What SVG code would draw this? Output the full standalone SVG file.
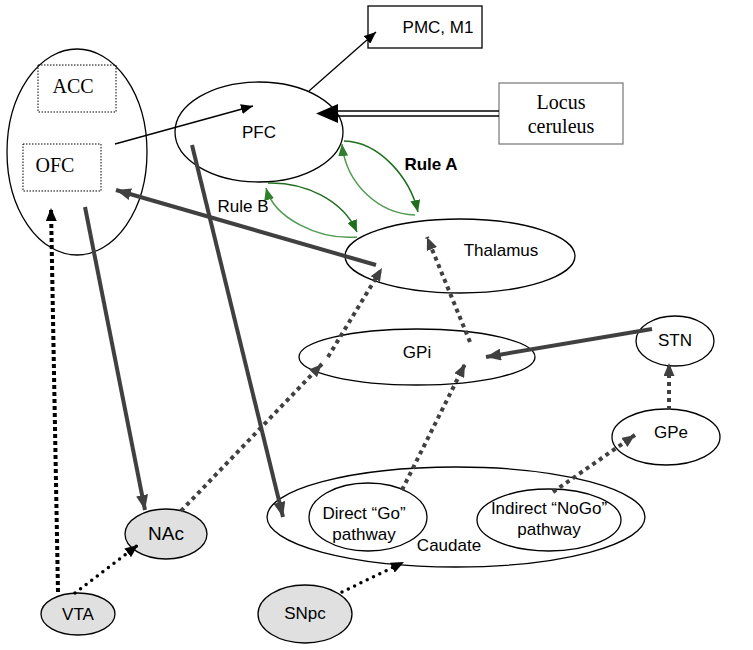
<svg xmlns="http://www.w3.org/2000/svg" width="753" height="650" viewBox="0 0 753 650">
<style>
.node{fill:#fff;stroke:#000;stroke-width:1.3}
.gray{fill:#e0e0e0;stroke:#000;stroke-width:1.3}
.box{fill:none;stroke:#000;stroke-width:1;stroke-dasharray:1.5 1.5}
.t{font-family:"Liberation Sans",Arial,sans-serif;font-size:17px;fill:#000;text-anchor:middle}
.s{font-family:"Liberation Serif","Times New Roman",serif;font-size:20px;fill:#000;text-anchor:middle}
.thin{stroke:#000;stroke-width:1.3;fill:none}
.thick{stroke:#404040;stroke-width:4;fill:none}
.dotg{stroke:#404040;stroke-width:4;stroke-dasharray:4 4;fill:none}
.dotk{stroke:#000;stroke-width:4;stroke-dasharray:4 3;fill:none}
.dotr{stroke:#000;stroke-width:3.5;stroke-dasharray:0 7;stroke-linecap:round;fill:none}
.gd{stroke:#1e6e1e;stroke-width:1.5;fill:none}
.gl{stroke:#4f9a4f;stroke-width:1.5;fill:none}
</style>
<defs>
<marker id="ak" markerUnits="userSpaceOnUse" markerWidth="12" markerHeight="10" refX="12" refY="5" orient="auto"><path d="M0,0 L12,5 L0,10 z" fill="#000"/></marker>
<marker id="ag" markerUnits="userSpaceOnUse" markerWidth="15" markerHeight="12" refX="15" refY="6" orient="auto"><path d="M0,0 L15,6 L0,12 z" fill="#404040"/></marker>
<marker id="ad" markerUnits="userSpaceOnUse" markerWidth="13" markerHeight="11" refX="13" refY="5.5" orient="auto"><path d="M0,0 L13,5.5 L0,11 z" fill="#404040"/></marker>
<marker id="ab" markerUnits="userSpaceOnUse" markerWidth="13" markerHeight="11" refX="13" refY="5.5" orient="auto"><path d="M0,0 L13,5.5 L0,11 z" fill="#000"/></marker>
<marker id="agd" markerUnits="userSpaceOnUse" markerWidth="12" markerHeight="10" refX="12" refY="5" orient="auto"><path d="M0,0 L12,5 L0,10 z" fill="#1e6e1e"/></marker>
<marker id="agl" markerUnits="userSpaceOnUse" markerWidth="12" markerHeight="10" refX="12" refY="5" orient="auto"><path d="M0,0 L12,5 L0,10 z" fill="#2f7f2f"/></marker>
</defs>

<g id="frontal">
<ellipse class="node" cx="77" cy="152" rx="70" ry="103"/>
<rect class="box" x="38" y="65" width="78" height="47"/>
<text class="s" x="73" y="93">ACC</text>
<rect class="box" x="23" y="144" width="78" height="47"/>
<text class="s" x="55" y="172">OFC</text>
</g>
<g id="pfc">
<ellipse class="node" cx="259" cy="132" rx="84" ry="50"/>
<text class="t" x="259" y="138">PFC</text>
</g>
<g id="pmc">
<rect x="368" y="6" width="114" height="42" fill="#fff" stroke="#000" stroke-width="1.3"/>
<text class="t" x="438" y="33">PMC, M1</text>
</g>
<g id="lc">
<rect x="499" y="83" width="124" height="61" fill="#fff" stroke="#808080" stroke-width="1.3"/>
<text class="s" x="561" y="109">Locus</text>
<text class="s" x="561" y="133">ceruleus</text>
</g>
<g id="thalamus">
<ellipse class="node" cx="460" cy="256" rx="115" ry="37"/>
<text class="t" x="501" y="256">Thalamus</text>
</g>
<g id="gpi">
<ellipse class="node" cx="417" cy="357" rx="118" ry="28"/>
<text class="t" x="417" y="358">GPi</text>
</g>
<g id="stn">
<ellipse class="node" cx="675" cy="341" rx="39" ry="25"/>
<text class="t" x="675" y="346">STN</text>
</g>
<g id="gpe">
<ellipse class="node" cx="666" cy="437" rx="54" ry="28"/>
<text class="t" x="671" y="438">GPe</text>
</g>
<g id="caudate">
<ellipse class="node" cx="456" cy="517" rx="189" ry="50"/>
<text class="t" x="449" y="551">Caudate</text>
</g>
<g id="direct">
<ellipse class="node" cx="368" cy="517" rx="59" ry="34"/>
<text class="t" x="364" y="519">Direct “Go”</text>
<text class="t" x="364" y="540">pathway</text>
</g>
<g id="indirect">
<ellipse class="node" cx="549" cy="520" rx="72" ry="31"/>
<text class="t" x="549" y="514">Indirect “NoGo”</text>
<text class="t" x="549" y="535">pathway</text>
</g>
<g id="nac">
<ellipse class="gray" cx="166" cy="534" rx="41" ry="25"/>
<text class="t" x="166" y="540" style="font-size:19px">NAc</text>
</g>
<g id="vta">
<ellipse class="gray" cx="78" cy="614" rx="37" ry="21"/>
<text class="t" x="78" y="620">VTA</text>
</g>
<g id="snpc">
<ellipse class="gray" cx="305" cy="614" rx="47" ry="29"/>
<text class="t" x="305" y="619">SNpc</text>
</g>

<g id="connectors">
<line class="thin" x1="115" y1="144" x2="253" y2="106" marker-end="url(#ak)"/>
<line class="thin" x1="309" y1="91" x2="376" y2="32" marker-end="url(#ak)"/>
<line x1="499" y1="111" x2="334" y2="111" stroke="#000" stroke-width="1.6"/>
<line x1="499" y1="116" x2="334" y2="116" stroke="#000" stroke-width="1.6"/>
<path d="M316,113.5 L338,104 L338,123 z" fill="#000"/>
<path class="gd" d="M344,141 C 380,142 410,178 418,212" marker-end="url(#agd)"/>
<path class="gl" d="M415,215 C 380,214 346,185 342,144" marker-end="url(#agl)"/>
<path class="gd" d="M268,183 C 305,182 343,200 357,232" marker-end="url(#agd)"/>
<path class="gl" d="M357,237 C 318,240 274,218 266,188" marker-end="url(#agl)"/>
<text x="431" y="170" style="font-family:'Liberation Sans',Arial,sans-serif;font-size:17px;font-weight:bold;text-anchor:middle">Rule A</text>
<text class="t" x="243" y="212">Rule B</text>
<line class="thick" x1="376" y1="265" x2="116" y2="190" marker-end="url(#ag)"/>
<line class="thick" x1="192" y1="145" x2="283" y2="517" marker-end="url(#ag)"/>
<line class="thick" x1="85" y1="207" x2="145" y2="510" marker-end="url(#ag)"/>
<line class="thick" x1="652" y1="329" x2="486" y2="357" marker-end="url(#ag)"/>
<line class="dotg" x1="181" y1="511" x2="322" y2="364" marker-end="url(#ad)"/>
<line class="dotg" x1="328" y1="357" x2="382" y2="268" marker-end="url(#ad)"/>
<line class="dotg" x1="402" y1="490" x2="465" y2="364" marker-end="url(#ad)"/>
<line class="dotg" x1="470" y1="342" x2="427" y2="237" marker-end="url(#ad)"/>
<line class="dotg" x1="553" y1="492" x2="635" y2="435" marker-end="url(#ad)"/>
<line class="dotg" x1="669" y1="410" x2="669" y2="363" marker-end="url(#ad)"/>
<line class="dotk" x1="58" y1="592" x2="51" y2="208" marker-end="url(#ab)"/>
<line class="dotr" x1="75" y1="593" x2="138" y2="545" marker-end="url(#ab)"/>
<line class="dotr" x1="342" y1="592" x2="404" y2="562" marker-end="url(#ab)"/>
</g>
</svg>
